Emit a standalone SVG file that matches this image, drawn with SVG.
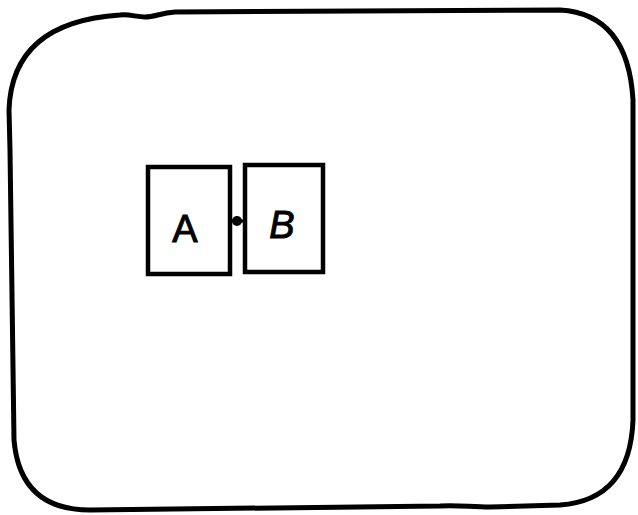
<svg xmlns="http://www.w3.org/2000/svg" width="638" height="515" viewBox="0 0 638 515">
<style>
.frame{fill:none;stroke:#000;stroke-width:5;stroke-linejoin:round;stroke-linecap:round}
.box{fill:#fff;stroke:#000;stroke-width:4.5}
.lbl{font-family:"Liberation Sans",Arial,sans-serif;font-size:38px;fill:#000;stroke:#000;stroke-width:1;text-anchor:middle}
</style>
<rect width="638" height="515" fill="#fff"/>
<path class="frame" d="M 10,150 L 9,110 Q 12,22 120,15 C 130,14 136,17 145,17 C 155,17 160,13 175,12 L 560,10 Q 628,14 633,100 L 633,420 Q 630,500 560,505 L 490,507 C 470,507 460,505 440,506 L 90,510 Q 20,510 14,440 Z"/>
<g id="nodeA">
<rect class="box" x="148" y="167" width="82" height="107"/>
<text class="lbl" x="185" y="242">A</text>
</g>
<g id="nodeB">
<rect class="box" x="245" y="165" width="78" height="107"/>
<text class="lbl" x="282" y="238" font-style="italic">B</text>
</g>
<g id="connectors">
<line x1="232" y1="221" x2="244" y2="221" stroke="#000" stroke-width="3"/>
<circle cx="237" cy="221" r="5" fill="#000"/>
</g>
</svg>
